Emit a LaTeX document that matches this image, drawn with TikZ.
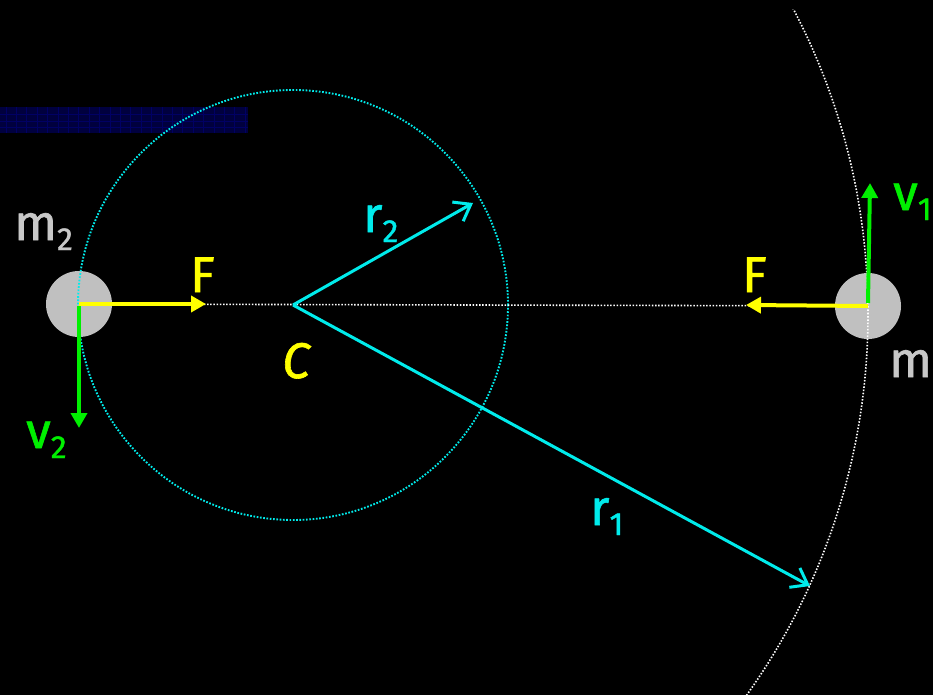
\documentclass[tikz,border=0pt]{standalone}
\usepackage{fontspec}
\setmainfont[FakeBold=1.2]{Fira Sans}
\usetikzlibrary{arrows.meta}
\definecolor{cyn}{RGB}{0,235,235}
\definecolor{ylw}{RGB}{255,255,0}
\definecolor{grn}{RGB}{0,240,0}
\definecolor{disc}{RGB}{192,192,192}
\definecolor{lbl}{RGB}{200,200,200}
\definecolor{navy}{RGB}{0,0,62}
\definecolor{navyline}{RGB}{0,0,100}
\newcommand\lowsub[1]{\raisebox{-10pt}{\fontsize{32}{32}\selectfont #1}}
\begin{document}
\begin{tikzpicture}[x=1pt,y=-1pt,
  massdisc/.style={circle,fill=disc,minimum size=66pt,inner sep=0pt},
  cdot/.style={draw=cyn,line width=1.9pt,dash pattern=on 1.7pt off 1.6pt},
  wdot/.style={draw=white,line width=1.6pt,dash pattern=on 1.5pt off 1.7pt},
  force/.style={draw=ylw,line width=4pt,-{Triangle[length=15pt,width=16pt]}},
  vel/.style={draw=grn,line width=4pt,-{Triangle[length=15pt,width=16pt]}},
  rad/.style={draw=cyn,line width=3pt,-{Straight Barb[length=15pt,width=22pt,line width=3pt]}},
  lab/.style={inner sep=0pt,font=\fontsize{50}{50}\selectfont}
]
\fill[black] (0,0) rectangle (933,695);
\useasboundingbox (0,0) rectangle (933,695);
% blue bar
\fill[navy] (0,107) rectangle (248,133);
\foreach \i in {0,...,23} \draw[navyline,line width=0.8pt] (\i*10.4+6,107) -- (\i*10.4+6,133);
\foreach \j in {114,121,127} \draw[navyline,line width=0.8pt] (0,\j) -- (248,\j);
% points
\coordinate (C) at (293,305);
\coordinate (O1) at (209,314);
\coordinate (r2tip) at (473,203);
\coordinate (r1tip) at (810,586);
\coordinate (v2tip) at (79,428);
\coordinate (v1tip) at (870,183);
\coordinate (F2tip) at (206,304);
\coordinate (F1tip) at (746,305);
% masses
\node[massdisc] (m2) at (79,304) {};
\node[massdisc] (m1) at (868,306) {};
% orbits
\draw[cdot] (C) circle[radius=215pt];
\begin{scope}
\clip (0,10) rectangle (933,695);
\draw[wdot] (O1) circle[radius=659pt];
\end{scope}
\draw[wdot] (m2.center) -- (m1.center);
% radius vectors
\draw[rad] (C) -- (r2tip);
\draw[rad] (C) -- (r1tip);
% forces
\draw[force] (m2.center) -- (F2tip);
\draw[force] (m1.center) -- (F1tip);
% velocities
\draw[vel] ([yshift=-2pt]m2.center) -- (v2tip);
\draw[vel] ([yshift=3pt]m1.center) -- (v1tip);
% labels
\node[lab,text=lbl,anchor=base west] (lm2) at (14,240) {m\lowsub{2}};
\node[lab,text=lbl,anchor=base west] (lm1) at (889,377) {m\lowsub{1}};
\node[lab,text=ylw,anchor=base west] (lF2) at (190,292) {F};
\node[lab,text=ylw,anchor=base west] (lF1) at (742,292) {F};
\node[lab,text=grn,anchor=base west] (lv2) at (26,448) {v\lowsub{2}};
\node[lab,text=grn,anchor=base west] (lv1) at (893,210) {v\lowsub{1}};
\node[lab,text=cyn,anchor=base west] (lr2) at (363,232) {r\lowsub{2}};
\node[lab,text=cyn,anchor=base west] (lr1) at (590,525) {r\lowsub{1}};
\node[lab,text=ylw,anchor=base west,font=\fontsize{50}{50}\selectfont\itshape] (lC) at (282,378) {C};
\end{tikzpicture}
\end{document}
